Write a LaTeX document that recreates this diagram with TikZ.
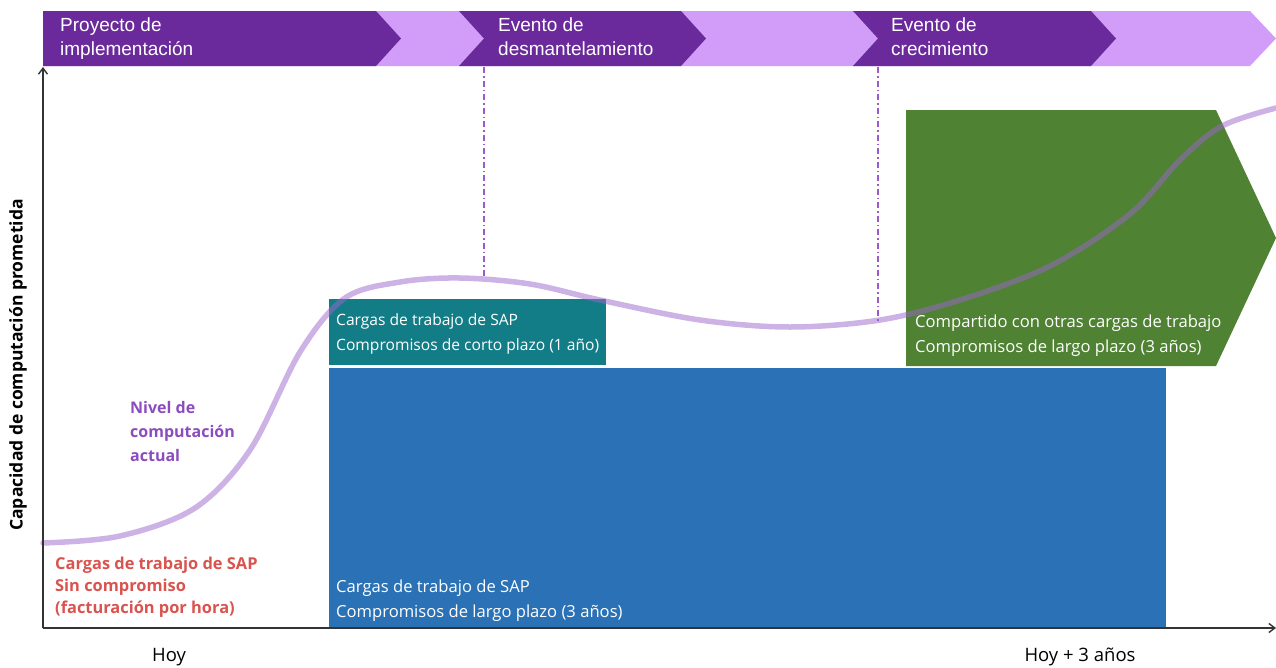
\documentclass[tikz,border=0pt]{standalone}
\usepackage{fontspec}
\setmainfont{Open Sans}
\newfontfamily\chevfont{Liberation Sans}
\usetikzlibrary{arrows.meta}
\definecolor{darkpurple}{HTML}{6B2A9B}
\definecolor{lightpurple}{HTML}{D19DF8}
\definecolor{tealbox}{HTML}{137D87}
\definecolor{bluebox}{HTML}{2A72B5}
\definecolor{greenbox}{HTML}{4F8233}
\definecolor{curvepurple}{HTML}{9B66CC}
\definecolor{labelpurple}{HTML}{8A4CBE}
\definecolor{redtext}{HTML}{D9534F}
\definecolor{axisgray}{HTML}{333333}
\definecolor{dashpurple}{HTML}{9B59D0}
\tikzset{
  chevtext/.style={anchor=north west, align=left, inner sep=0pt, text=white,
    font=\chevfont\fontsize{19}{23.5}\selectfont},
  boxtext/.style={anchor=north west, align=left, inner sep=0pt, text=white,
    font=\fontsize{16.6}{25}\selectfont},
  marker/.style={dashpurple, line width=1.3pt, dash pattern=on 6pt off 3pt on 1.5pt off 3pt},
  axis/.style={axisgray, line width=1.8pt, -{Straight Barb[length=6pt,width=9pt,line width=1.4pt]}},
}
\begin{document}
\begin{tikzpicture}[x=1pt,y=-1pt]
\useasboundingbox (0,0) rectangle (1276,667);
% chevron band
\fill[lightpurple] (43,11) -- (1250,11) -- (1276,38.5) -- (1250,66) -- (43,66) -- cycle;
\fill[darkpurple] (43,11) -- (376,11) -- (401,38.5) -- (376,66) -- (43,66) -- cycle;
\fill[darkpurple] (459,11) -- (681,11) -- (706,38.5) -- (681,66) -- (459,66) -- (484,38.5) -- cycle;
\fill[darkpurple] (853,11) -- (1091,11) -- (1116,38.5) -- (1091,66) -- (853,66) -- (878,38.5) -- cycle;
\node[chevtext] (c1) at (60,18) {Proyecto de\\implementación};
\node[chevtext] (c2) at (498,18) {Evento de\\desmantelamiento};
\node[chevtext] (c3) at (891,18) {Evento de\\crecimiento};
% event markers
\coordinate (m1a) at (484,67); \coordinate (m1b) at (484,278);
\coordinate (m2a) at (878,67); \coordinate (m2b) at (878,322);
\draw[marker] (m1a) -- (m1b);
\draw[marker] (m2a) -- (m2b);
% boxes
\fill[bluebox] (329,368) rectangle (1166,628);
\fill[tealbox] (329,299) rectangle (606,365);
\fill[greenbox] (906,110) -- (1216,110) -- (1276,238) -- (1216,366) -- (906,366) -- cycle;
\node[boxtext, font=\fontsize{15.6}{25}\selectfont] (t1) at (336,313) {Cargas de trabajo de SAP\\Compromisos de corto plazo (1 año)};
\node[boxtext] (t2) at (336,580) {Cargas de trabajo de SAP\\Compromisos de largo plazo (3 años)};
\node[boxtext] (t3) at (915,315) {Compartido con otras cargas de trabajo\\Compromisos de largo plazo (3 años)};
% curve
\draw[curvepurple, opacity=0.5, line width=5.5pt, line cap=round]
  plot[smooth, tension=0.55] coordinates {(43,543) (120,536) (195,508) (250,450) (300,352) (345,298) (400,282) (460,278) (530,284) (600,300) (700,320) (790,327) (880,320) (960,300) (1050,266) (1130,214) (1180,160) (1222,126) (1276,108)};
% axes
\coordinate (origin) at (43,628);
\coordinate (ytop) at (43,67);
\coordinate (xend) at (1276,628);
\draw[axis] (origin) -- (ytop);
\draw[axis] (origin) -- (xend);
% labels
\node[anchor=north west, align=left, inner sep=0pt, text=labelpurple,
  font=\bfseries\fontsize{16}{24}\selectfont] (lvl) at (130,401) {Nivel de\\computación\\actual};
\node[anchor=north west, align=left, inner sep=0pt, text=redtext,
  font=\bfseries\fontsize{16.4}{22}\selectfont] (od) at (55,557) {Cargas de trabajo de SAP\\Sin compromiso\\(facturación por hora)};
\node[rotate=90, inner sep=0pt, font=\bfseries\fontsize{17.5}{20}\selectfont] (ylab) at (18,365) {Capacidad de computación prometida};
\node[inner sep=0pt, font=\fontsize{18.5}{20}\selectfont] (hoy) at (169,657) {Hoy};
\node[inner sep=0pt, font=\fontsize{18.5}{20}\selectfont] (hoy3) at (1080,657) {Hoy + 3 años};
\end{tikzpicture}
\end{document}
